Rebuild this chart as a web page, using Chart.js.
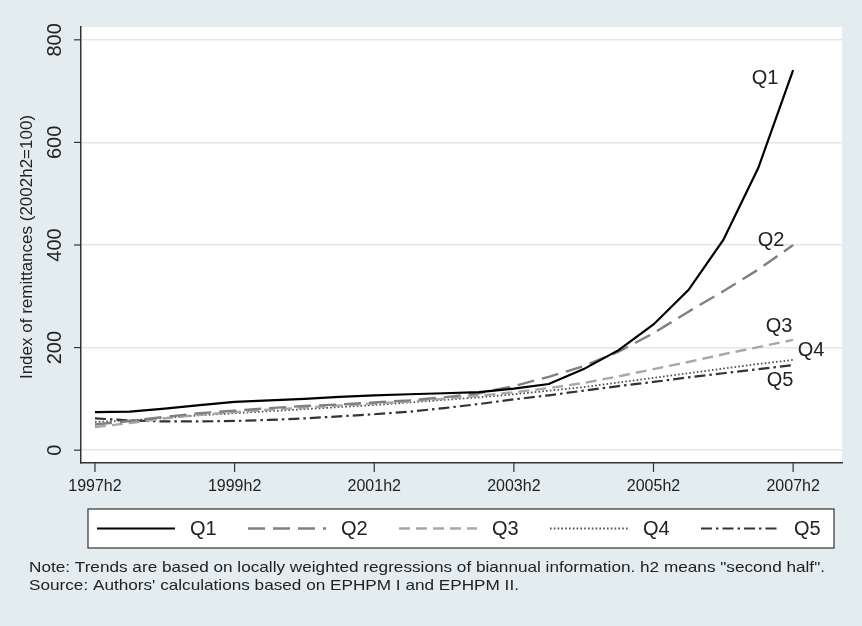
<!DOCTYPE html>
<html>
<head>
<meta charset="utf-8">
<script src="https://cdn.jsdelivr.net/npm/chart.js@4.4.1/dist/chart.umd.min.js"></script>
<style>
  html, body { margin: 0; padding: 0; background: #e3edf0; }
  #wrap { width: 862px; height: 626px; }
</style>
</head>
<body>
<div id="wrap"><canvas id="chart" width="862" height="626"></canvas></div>
<script>
// half-year periods, 1997h2 .. 2007h2
const periods = ["1997h2", "1998h1", "1998h2", "1999h1", "1999h2", "2000h1", "2000h2",
  "2001h1", "2001h2", "2002h1", "2002h2", "2003h1", "2003h2", "2004h1", "2004h2",
  "2005h1", "2005h2", "2006h1", "2006h2", "2007h1", "2007h2"]
const xTickLabels = ["1997h2", "1999h2", "2001h2", "2003h2", "2005h2", "2007h2"]
const yTicks = [0, 200, 400, 600, 800]

// index of remittances (2002h2=100), by quintile
const q1 = [74, 75, 81, 88, 94, 97, 100, 104, 107, 109, 111, 113, 120, 129, 158, 195, 245, 312, 410, 550, 741]
const q2 = [50, 57, 65, 72, 77, 82, 86, 89, 93, 97, 103, 111, 125, 143, 164, 192, 228, 270, 310, 352, 400]
const q3 = [45, 53, 62, 69, 74, 79, 83, 87, 91, 95, 100, 106, 113, 121, 131, 144, 158, 172, 187, 201, 215]
const q4 = [55, 58, 63, 68, 72, 76, 80, 84, 88, 93, 98, 103, 109, 116, 123, 132, 141, 150, 159, 168, 176]
const q5 = [62, 58, 56, 56, 57, 59, 62, 66, 70, 75, 82, 90, 99, 107, 116, 125, 133, 142, 150, 158, 166]

const seriesNames = ["Q1", "Q2", "Q3", "Q4", "Q5"]
const noteLines = [
  "Note: Trends are based on locally weighted regressions of biannual information. h2 means \"second half\".",
  "Source: Authors' calculations based on EPHPM I and EPHPM II.",
]

const FONT = "'Liberation Sans', Arial, sans-serif"
const styles = [
  { color: "#000000", dash: [], width: 2.2 },
  { color: "#808080", dash: [17, 8], width: 2.4 },
  { color: "#a8a8a8", dash: [11, 6], width: 2.4 },
  { color: "#505050", dash: [1.6, 2.2], width: 1.8 },
  { color: "#333333", dash: [11, 4, 2.5, 4], width: 2.2 },
]
// offsets of the end labels from the last point of each line
const endLabelOffsets = [[-28, 8], [-22, -5], [-14, -13], [18, -9], [-13, 15]]

const toPoints = (arr) => arr.map((v, i) => ({ x: i, y: v }))

const decor = {
  id: "decor",
  beforeDraw(chart) {
    const { ctx, chartArea: a } = chart
    ctx.save()
    ctx.fillStyle = "#e3edf0"
    ctx.fillRect(0, 0, chart.width, chart.height)
    ctx.fillStyle = "#ffffff"
    ctx.fillRect(a.left, a.top, a.right - a.left, a.bottom - a.top)
    ctx.restore()
  },
  afterDraw(chart) {
    const { ctx, chartArea: a } = chart
    const xs = chart.scales.x
    const ys = chart.scales.y
    ctx.save()
    ctx.strokeStyle = "#333333"
    ctx.fillStyle = "#222222"
    ctx.lineWidth = 1.2

    // y ticks + rotated labels
    ctx.font = "20px " + FONT
    ctx.textAlign = "center"
    ctx.textBaseline = "middle"
    yTicks.forEach((v) => {
      const y = ys.getPixelForValue(v)
      ctx.beginPath()
      ctx.moveTo(a.left - 7, y)
      ctx.lineTo(a.left, y)
      ctx.stroke()
      ctx.save()
      ctx.translate(55, y)
      ctx.rotate(-Math.PI / 2)
      ctx.fillText(String(v), 0, 0)
      ctx.restore()
    })

    // x ticks + labels
    ctx.font = "16px " + FONT
    xTickLabels.forEach((lab) => {
      const x = xs.getPixelForValue(periods.indexOf(lab))
      ctx.beginPath()
      ctx.moveTo(x, a.bottom)
      ctx.lineTo(x, a.bottom + 9)
      ctx.stroke()
      ctx.fillText(lab, x, a.bottom + 24)
    })

    // y axis title
    ctx.save()
    ctx.font = "17px " + FONT
    ctx.translate(27, (a.top + a.bottom) / 2 + 2)
    ctx.rotate(-Math.PI / 2)
    ctx.fillText("Index of remittances (2002h2=100)", 0, 0)
    ctx.restore()

    // end-of-line labels
    ctx.font = "20px " + FONT
    chart.data.datasets.forEach((ds, i) => {
      const last = ds.data[ds.data.length - 1]
      const x = xs.getPixelForValue(last.x) + endLabelOffsets[i][0]
      const y = ys.getPixelForValue(last.y) + endLabelOffsets[i][1]
      ctx.fillText(ds.label, x, y)
    })

    // legend box
    const lg = { left: 88, top: 509, right: 834, bottom: 548 }
    ctx.fillStyle = "#ffffff"
    ctx.fillRect(lg.left, lg.top, lg.right - lg.left, lg.bottom - lg.top)
    ctx.strokeStyle = "#333333"
    ctx.lineWidth = 1.2
    ctx.strokeRect(lg.left, lg.top, lg.right - lg.left, lg.bottom - lg.top)
    const midY = (lg.top + lg.bottom) / 2
    seriesNames.forEach((name, i) => {
      const x0 = 97 + 151 * i
      const st = styles[i]
      ctx.save()
      ctx.strokeStyle = st.color
      ctx.lineWidth = st.width
      ctx.setLineDash(st.dash)
      ctx.beginPath()
      ctx.moveTo(x0, midY)
      ctx.lineTo(x0 + 78, midY)
      ctx.stroke()
      ctx.restore()
      ctx.fillStyle = "#222222"
      ctx.textAlign = "left"
      ctx.font = "20px " + FONT
      ctx.fillText(name, x0 + 93, midY + 1)
    })

    // notes
    ctx.font = "15px " + FONT
    ctx.textAlign = "left"
    const sx = 796 / ctx.measureText(noteLines[0]).width
    noteLines.forEach((line, i) => {
      ctx.save()
      ctx.translate(29, 568 + i * 18)
      ctx.scale(sx, 1)
      ctx.fillText(line, 0, 0)
      ctx.restore()
    })
    ctx.restore()
  },
}

const series = [q1, q2, q3, q4, q5]

new Chart(document.getElementById("chart"), {
  type: "line",
  data: {
    datasets: series.map((arr, i) => ({
      label: seriesNames[i],
      data: toPoints(arr),
      borderColor: styles[i].color,
      borderWidth: styles[i].width,
      borderDash: styles[i].dash,
      pointRadius: 0,
      tension: 0,
      fill: false,
    })),
  },
  options: {
    responsive: false,
    animation: false,
    devicePixelRatio: 1,
    layout: { padding: { left: 81, top: 27, right: 20, bottom: 163 } },
    plugins: { legend: { display: false }, tooltip: { enabled: false } },
    scales: {
      x: {
        type: "linear",
        min: -0.4,
        max: 21.4,
        afterBuildTicks: (scale) => { scale.ticks = xTickLabels.map((l) => ({ value: periods.indexOf(l) })) },
        ticks: { display: false },
        grid: { display: false, drawTicks: false },
        border: { display: true, color: "#333333", width: 1.5 },
      },
      y: {
        min: -25,
        max: 825,
        afterBuildTicks: (scale) => { scale.ticks = yTicks.map((v) => ({ value: v })) },
        ticks: { display: false },
        grid: { color: "#dfe9ed", lineWidth: 1.5, drawTicks: false },
        border: { display: true, color: "#333333", width: 1.5 },
      },
    },
  },
  plugins: [decor],
})
</script>
</body>
</html>
